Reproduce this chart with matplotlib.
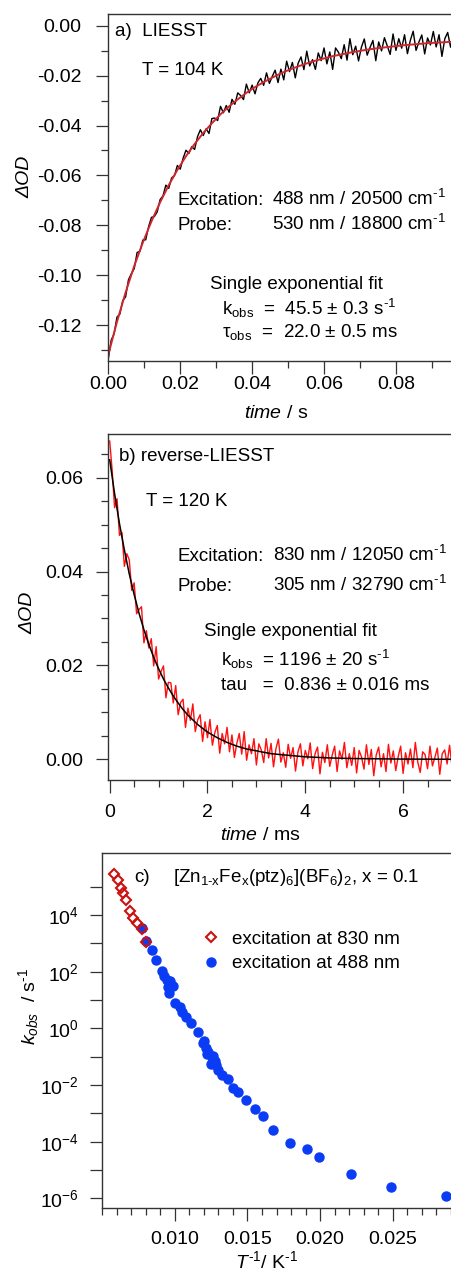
import numpy as np
import matplotlib
matplotlib.use('Agg')
import matplotlib.pyplot as plt
from matplotlib.ticker import FixedLocator, MultipleLocator, FuncFormatter, NullFormatter

plt.rcParams['font.family'] = ['Liberation Sans', 'DejaVu Sans']
plt.rcParams['mathtext.fontset'] = 'custom'
plt.rcParams['mathtext.rm'] = 'Liberation Sans'
plt.rcParams['mathtext.it'] = 'Liberation Sans:italic'
plt.rcParams['mathtext.default'] = 'regular'
plt.rcParams['axes.unicode_minus'] = False
plt.rcParams['font.size'] = 14

# ---- a) LIESST, 104 K : transient (s) and single exponential fit ----
dt_a = 0.0008
od_a = [-0.1334, -0.1260, -0.1235, -0.1168, -0.1156, -0.1102, -0.1087, -0.1018, -0.0994, -0.0974,
        -0.0909, -0.0904, -0.0859, -0.0858, -0.0805, -0.0768, -0.0765, -0.0746, -0.0697, -0.0682,
        -0.0639, -0.0652, -0.0610, -0.0601, -0.0560, -0.0575, -0.0531, -0.0499, -0.0512, -0.0485,
        -0.0496, -0.0445, -0.0417, -0.0440, -0.0413, -0.0432, -0.0372, -0.0370, -0.0380, -0.0323,
        -0.0349, -0.0320, -0.0347, -0.0295, -0.0315, -0.0269, -0.0280, -0.0296, -0.0234, -0.0269,
        -0.0238, -0.0273, -0.0229, -0.0211, -0.0239, -0.0189, -0.0231, -0.0203, -0.0178, -0.0228,
        -0.0174, -0.0217, -0.0142, -0.0184, -0.0147, -0.0209, -0.0150, -0.0125, -0.0176, -0.0102,
        -0.0161, -0.0136, -0.0175, -0.0109, -0.0140, -0.0089, -0.0153, -0.0105, -0.0175, -0.0089,
        -0.0106, -0.0132, -0.0076, -0.0138, -0.0052, -0.0116, -0.0082, -0.0141, -0.0086, -0.0053,
        -0.0118, -0.0087, -0.0059, -0.0140, -0.0065, -0.0101, -0.0048, -0.0081, -0.0115, -0.0033,
        -0.0099, -0.0052, -0.0090, -0.0036, -0.0112, -0.0059, -0.0022, -0.0099, -0.0065, -0.0037,
        -0.0113, -0.0049, -0.0077, -0.0023, -0.0085, -0.0036, -0.0123, -0.0052, -0.0027, -0.0086,
        -0.0039]
fit_dt_a = 0.0024
fit_a = [-0.1318, -0.1187, -0.1069, -0.0963, -0.0869, -0.0784, -0.0708, -0.0639, -0.0578, -0.0523,
         -0.0474, -0.0430, -0.0391, -0.0355, -0.0323, -0.0295, -0.0269, -0.0246, -0.0226, -0.0208,
         -0.0191, -0.0176, -0.0163, -0.0151, -0.0140, -0.0131, -0.0122, -0.0115, -0.0108, -0.0102,
         -0.0096, -0.0091, -0.0087, -0.0083, -0.0079, -0.0076, -0.0073, -0.0070, -0.0068, -0.0066,
         -0.0064]

# ---- b) reverse-LIESST, 120 K : transient (ms) and fit ----
dt_b = 0.05
od_b = [0.0678, 0.0616, 0.0536, 0.0555, 0.0477, 0.0483, 0.0411, 0.0438, 0.0425, 0.0360,
        0.0376, 0.0310, 0.0319, 0.0325, 0.0248, 0.0274, 0.0237, 0.0257, 0.0199, 0.0240,
        0.0171, 0.0187, 0.0199, 0.0131, 0.0164, 0.0163, 0.0120, 0.0157, 0.0095, 0.0121,
        0.0128, 0.0068, 0.0109, 0.0083, 0.0118, 0.0059, 0.0084, 0.0095, 0.0038, 0.0080,
        0.0046, 0.0085, 0.0030, 0.0057, 0.0072, 0.0013, 0.0055, 0.0033, 0.0068, 0.0016,
        0.0052, 0.0004, 0.0034, 0.0055, 0.0011, 0.0059, -0.0002, 0.0031, 0.0012, 0.0044,
        -0.0012, 0.0033, 0.0020, -0.0007, 0.0044, 0.0003, 0.0034, -0.0016, 0.0023, 0.0043,
        -0.0006, 0.0014, -0.0017, 0.0032, 0.0002, 0.0025, -0.0025, 0.0016, 0.0033, -0.0014,
        0.0019, 0.0001, 0.0035, -0.0020, 0.0012, 0.0026, -0.0031, 0.0015, -0.0007, 0.0031,
        -0.0015, 0.0009, 0.0028, -0.0026, 0.0018, 0.0000, 0.0036, -0.0018, 0.0012, -0.0013,
        0.0025, -0.0029, 0.0019, 0.0005, -0.0021, 0.0031, -0.0011, 0.0021, -0.0035, 0.0009,
        0.0026, -0.0016, 0.0012, -0.0026, 0.0032, -0.0008, 0.0018, -0.0024, 0.0006, 0.0028,
        -0.0030, 0.0014, -0.0010, 0.0022, -0.0018, 0.0036, -0.0006, -0.0028, 0.0016, 0.0010,
        -0.0020, 0.0028, -0.0014, 0.0004, 0.0024, -0.0032, 0.0012, 0.0020, -0.0010, 0.0030,
        -0.0016]
fit_t_b = [0.0, 0.1, 0.2, 0.3, 0.4, 0.5, 0.6, 0.7, 0.8, 0.9, 1.0, 1.1, 1.2, 1.3, 1.4, 1.5,
           1.6, 1.7, 1.8, 1.9, 2.0, 2.1, 2.2, 2.3, 2.4, 2.5, 2.6, 2.7, 2.8, 2.9, 3.0, 3.1,
           3.2, 3.3, 3.4, 3.5, 4.0, 4.5, 5.0, 6.0, 7.0]
fit_b = [0.0638, 0.0566, 0.0502, 0.0446, 0.0395, 0.0351, 0.0311, 0.0276, 0.0245, 0.0217,
         0.0193, 0.0171, 0.0152, 0.0135, 0.0120, 0.0106, 0.0094, 0.0084, 0.0074, 0.0066,
         0.0058, 0.0052, 0.0046, 0.0041, 0.0036, 0.0032, 0.0028, 0.0025, 0.0022, 0.0020,
         0.0018, 0.0016, 0.0014, 0.0012, 0.0011, 0.0010, 0.00053, 0.00029, 0.00016, 0.00005,
         0.00001]

# ---- c) Arrhenius-type plot k_obs vs 1/T ----
inv_t_830 = [0.00580, 0.00609, 0.00626, 0.00644, 0.00660, 0.00690, 0.00713, 0.00740, 0.00771, 0.00798]
k_830 = [2.75e5, 1.74e5, 8.7e4, 5.9e4, 3.5e4, 1.4e4, 7.9e3, 5.1e3, 3.2e3, 1.15e3]
inv_t_488 = [0.00770, 0.00798, 0.00839, 0.00869, 0.00913, 0.00924, 0.00943, 0.00966, 0.00984, 0.00961,
             0.00950, 0.01000, 0.01034, 0.01046, 0.01076, 0.01108, 0.01161, 0.01191, 0.01200, 0.01213,
             0.01222, 0.01230, 0.01245, 0.01253, 0.01265, 0.01275, 0.01285, 0.01298, 0.01326, 0.01363,
             0.01402, 0.01436, 0.01489, 0.01551, 0.01604, 0.01677, 0.01792, 0.01907, 0.01994, 0.02212,
             0.02492, 0.02871]
k_488 = [3.4e3, 1.2e3, 5.8e2, 2.5e2, 1.05e2, 71, 51, 45, 32, 18,
         28, 8.1, 5.8, 3.9, 2.6, 1.6, 0.76, 0.30, 0.35, 0.195,
         0.126, 0.15, 0.056, 0.10, 0.11, 0.072, 0.05, 0.034, 0.022, 0.016,
         7.6e-3, 5.8e-3, 3.0e-3, 1.4e-3, 8.3e-4, 2.5e-4, 9.1e-5, 5.4e-5, 3.0e-5, 7.2e-6,
         2.6e-6, 1.23e-6]

AX_COL = '#333333'
TXT = 13.5


def style_axes(ax, xpad, ypad):
    ax.spines['right'].set_visible(False)
    for s in ['top', 'left', 'bottom']:
        ax.spines[s].set_linewidth(1.0)
        ax.spines[s].set_color(AX_COL)
    ax.tick_params(which='major', direction='out', length=9, width=0.9, color=AX_COL)
    ax.tick_params(which='minor', direction='out', length=4.7, width=0.9, color=AX_COL)
    ax.tick_params(axis='x', which='major', pad=xpad)
    ax.tick_params(axis='y', which='major', pad=ypad)
    ax.tick_params(top=False, right=False, which='both')


def fmt2(v, pos):
    if abs(v) < 1e-9:
        v = 0.0
    return f'{v:.2f}'


def note(ax, x, y, s):
    ax.text(x, y, s, transform=ax.transAxes, va='baseline', fontsize=TXT)


fig = plt.figure(figsize=(4.52, 12.73), dpi=100)

# panel a
ax_a = fig.add_axes([0.2389, 0.7164, 0.7611, 0.2726])
t_a = np.arange(len(od_a)) * dt_a
ax_a.plot(t_a, od_a, color='black', lw=1.0)
ax_a.plot(np.arange(len(fit_a)) * fit_dt_a, fit_a, color='#d0262e', lw=1.4)
ax_a.set_xlim(-0.0001, 0.0956)
ax_a.set_ylim(-0.1344, 0.0047)
ax_a.xaxis.set_major_locator(MultipleLocator(0.02))
ax_a.xaxis.set_minor_locator(MultipleLocator(0.01))
ax_a.yaxis.set_major_locator(MultipleLocator(0.02))
ax_a.yaxis.set_minor_locator(MultipleLocator(0.01))
ax_a.xaxis.set_major_formatter(FuncFormatter(fmt2))
ax_a.yaxis.set_major_formatter(FuncFormatter(fmt2))
style_axes(ax_a, 1.5, 10.0)
ax_a.set_ylabel('ΔOD', style='italic')
ax_a.yaxis.label.set_verticalalignment('center')
ax_a.yaxis.set_label_coords(-0.241, 0.53)
ax_a.set_xlabel(r'$\mathit{time}$ / s')
ax_a.xaxis.set_label_coords(0.488, -0.128)
note(ax_a, 0.020, 0.9366, 'a)  LIESST')
note(ax_a, 0.099, 0.8242, 'T = 104 K')
note(ax_a, 0.2035, 0.4496, 'Excitation:')
note(ax_a, 0.4758, 0.4496, r'488 nm / 20500 cm$^{\text{-}1}$')
note(ax_a, 0.2035, 0.3775, 'Probe:')
note(ax_a, 0.4758, 0.3775, r'530 nm / 18800 cm$^{\text{-}1}$')
note(ax_a, 0.2965, 0.2084, 'Single exponential fit')
note(ax_a, 0.3305, 0.1326, r'k$_{obs}$  =  45.5 ± 0.3 s$^{\text{-}1}$')
note(ax_a, 0.3305, 0.0700, r'τ$_{obs}$  =  22.0 ± 0.5 ms')

# panel b
ax_b = fig.add_axes([0.2389, 0.3873, 0.7611, 0.2718])
t_b = np.arange(len(od_b)) * dt_b
ax_b.plot(t_b, od_b, color='#ff1010', lw=1.0)
ax_b.plot(fit_t_b, fit_b, color='black', lw=1.1)
ax_b.set_xlim(-0.035, 7.0)
ax_b.set_ylim(-0.0044, 0.0693)
ax_b.xaxis.set_major_locator(MultipleLocator(2))
ax_b.xaxis.set_minor_locator(MultipleLocator(0.5))
ax_b.yaxis.set_major_locator(MultipleLocator(0.02))
ax_b.yaxis.set_minor_locator(MultipleLocator(0.005))
ax_b.xaxis.set_major_formatter(FuncFormatter(lambda v, p: f'{v:.0f}'))
ax_b.yaxis.set_major_formatter(FuncFormatter(fmt2))
style_axes(ax_b, 8.5, 8.5)
ax_b.set_ylabel('ΔOD', style='italic')
ax_b.yaxis.label.set_verticalalignment('center')
ax_b.yaxis.set_label_coords(-0.2326, 0.482)
ax_b.set_xlabel(r'$\mathit{time}$ / ms')
ax_b.xaxis.set_label_coords(0.442, -0.135)
note(ax_b, 0.032, 0.923, 'b) reverse-LIESST')
note(ax_b, 0.1095, 0.793, 'T = 120 K')
note(ax_b, 0.2025, 0.634, 'Excitation:')
note(ax_b, 0.4785, 0.634, r'830 nm / 12050 cm$^{\text{-}1}$')
note(ax_b, 0.2025, 0.547, 'Probe:')
note(ax_b, 0.4785, 0.547, r'305 nm / 32790 cm$^{\text{-}1}$')
note(ax_b, 0.279, 0.416, 'Single exponential fit')
note(ax_b, 0.3285, 0.3295, r'k$_{obs}$  = 1196 ± 20 s$^{\text{-}1}$')
note(ax_b, 0.3285, 0.260, 'tau   =  0.836 ± 0.016 ms')

# panel c
ax_c = fig.add_axes([0.2257, 0.0511, 0.7743, 0.2789])
ax_c.set_yscale('log')
h488, = ax_c.plot(inv_t_488, k_488, 'o', color='#0a3cf5', ms=6.5, mec='#0a3cf5', ls='none')
h830, = ax_c.plot(inv_t_830, k_830, 'D', mfc='none', mec='#cc1111', mew=1.5, ms=5.2, ls='none')
ax_c.set_xlim(0.00497, 0.0291)
ax_c.set_ylim(4.6e-7, 1.55e6)
ax_c.xaxis.set_major_locator(FixedLocator([0.010, 0.015, 0.020, 0.025]))
ax_c.xaxis.set_minor_locator(MultipleLocator(0.001))
ax_c.xaxis.set_major_formatter(FuncFormatter(lambda v, p: f'{v:.3f}'))
ax_c.yaxis.set_major_locator(FixedLocator([1e-6, 1e-4, 1e-2, 1e0, 1e2, 1e4]))
ax_c.yaxis.set_minor_locator(FixedLocator([1e-5, 1e-3, 1e-1, 1e1, 1e3, 1e5]))
ax_c.yaxis.set_major_formatter(FuncFormatter(lambda v, p: r'10$^{%d}$' % round(np.log10(v))))
ax_c.yaxis.set_minor_formatter(NullFormatter())
style_axes(ax_c, 7.5, 7.5)
ax_c.tick_params(axis='y', which='minor', length=9)
ax_c.set_ylabel(r'$\mathit{k}_{\mathit{obs}}$  / s$^{\text{-}1}$')
ax_c.yaxis.label.set_verticalalignment('center')
ax_c.yaxis.set_label_coords(-0.211, 0.569)
ax_c.set_xlabel(r'$\mathit{T}^{\text{-}1}$/ K$^{\text{-}1}$')
ax_c.xaxis.set_label_coords(0.469, -0.118)
note(ax_c, 0.0924, 0.919, 'c)')
note(ax_c, 0.202, 0.919, r'[Zn$_{1\text{-}x}$Fe$_{x}$(ptz)$_{6}$](BF$_{6}$)$_{2}$, x = 0.1')
ax_c.legend([h830, h488], ['excitation at 830 nm', 'excitation at 488 nm'],
            loc='upper left', bbox_to_anchor=(0.284, 0.781), frameon=False,
            borderpad=0, borderaxespad=0, handlelength=1.0, handletextpad=0.65,
            labelspacing=0.40, fontsize=TXT)

fig.savefig('out.png', dpi=100)
